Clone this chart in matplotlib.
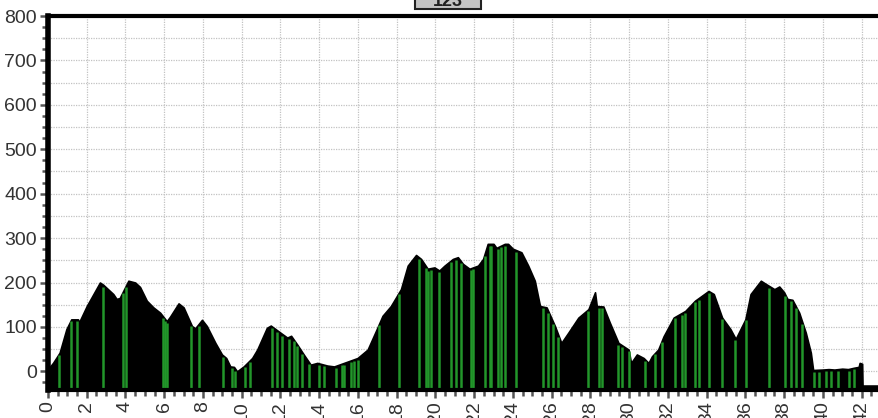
import numpy as np
import matplotlib.pyplot as plt
from matplotlib.ticker import MultipleLocator
from matplotlib.patches import Rectangle

plt.rcParams['font.family'] = ['Liberation Sans', 'DejaVu Sans']

# elevation profile: distance (km) and height (m)
dist = [0.0, 0.26, 0.6, 0.95, 1.2, 1.55, 1.6, 2.0, 2.68, 2.85, 3.37, 3.54, 3.7,
        4.15, 4.5, 4.75, 5.1, 5.44, 5.79, 6.13, 6.3, 6.74, 7.0, 7.43, 7.6, 7.95,
        8.2, 8.64, 8.98, 9.2, 9.41, 9.6, 9.76, 10.1, 10.54, 10.8, 11.3, 11.5,
        12.0, 12.35, 12.55, 12.87, 13.2, 13.56, 13.9, 14.42, 14.77, 15.28, 15.98,
        16.5, 16.93, 17.27, 17.7, 18.22, 18.57, 19.0, 19.26, 19.6, 19.95, 20.2,
        20.47, 20.9, 21.16, 21.42, 21.76, 22.2, 22.46, 22.7, 23.0, 23.15, 23.58,
        23.75, 24.0, 24.44, 24.79, 25.13, 25.4, 25.74, 26.17, 26.5, 26.86, 27.38,
        27.9, 28.24, 28.33, 28.67, 29.0, 29.45, 29.97, 30.1, 30.4, 30.75, 31.0,
        31.18, 31.5, 31.78, 32.3, 32.9, 33.4, 34.1, 34.37, 34.8, 35.23, 35.5,
        36.0, 36.27, 36.8, 37.05, 37.5, 37.75, 38.0, 38.17, 38.43, 38.78, 39.12,
        39.38, 39.5, 40.0, 40.3, 40.6, 41.0, 41.3, 41.6, 41.85, 41.9, 42.03,
        42.05, 42.9]
elev = [5, 19, 42, 95, 117, 117, 110, 147, 200, 195, 174, 163, 165,
        204, 200, 190, 159, 144, 132, 113, 123, 153, 144, 102, 97, 116,
        102, 64, 38, 30, 11, 10, 0, 11, 30, 49, 98, 103,
        87, 76, 80, 60, 38, 15, 19, 13, 11, 19, 30,
        49, 91, 125, 147, 185, 238, 262, 253, 231, 234, 227,
        238, 253, 257, 242, 231, 238, 253, 287, 287, 278, 287,
        287, 276, 268, 238, 204, 147, 144, 102, 64, 87, 121,
        140, 178, 147, 146, 110, 64, 49, 19, 38, 30, 19,
        34, 49, 79, 121, 136, 159, 181, 174, 121, 95, 73,
        117, 174, 204, 197, 185, 191, 178, 163, 161, 132, 87,
        42, 3, 4, 5, 4, 6, 5, 8, 10, 19, 17,
        -32, -32]

# positions of the green gradient stripes (km)
green_km = [0.57, 1.21, 1.5, 2.85, 3.89, 4.03, 5.93, 6.05, 6.13, 7.39, 7.77,
            9.04, 9.5, 9.67, 10.19, 10.45, 11.57, 11.83, 12.09, 12.44, 12.69,
            12.87, 13.13, 13.47, 13.99, 14.25, 14.85, 15.2, 15.28, 15.63, 15.8,
            15.98, 17.1, 18.13, 19.17, 19.52, 19.6, 19.78, 20.21, 20.81, 21.07,
            21.33, 21.85, 21.94, 22.54, 22.8, 22.88, 23.23, 23.4, 23.58, 24.18,
            25.56, 25.82, 26.08, 26.34, 27.9, 28.42, 28.59, 29.45, 29.62, 29.97,
            30.83, 31.35, 31.69, 32.38, 32.73, 32.9, 33.42, 33.59, 34.11, 34.8,
            35.49, 36.01, 37.22, 38.05, 38.34, 38.6, 38.95, 39.55, 39.81, 40.16,
            40.41, 40.76, 41.37, 41.63]

ymin, ymax = -42, 800

fig = plt.figure(figsize=(8.79, 4.18), dpi=100)
ax = fig.add_axes([0.0546, 0.067, 0.9454, 0.8947])

ax.fill_between(dist, elev, ymin, color='black', lw=1.2, zorder=2)
tops = np.interp(green_km, dist, elev)
ax.vlines(green_km, ymin, tops - 4, color='#22962a', lw=1.8, zorder=3)

ax.set_xlim(0, 42.9)
ax.set_ylim(ymin, ymax)

ax.xaxis.set_major_locator(MultipleLocator(2))
ax.xaxis.set_minor_locator(MultipleLocator(0.5))
ax.yaxis.set_major_locator(MultipleLocator(100))
ax.yaxis.set_minor_locator(MultipleLocator(25))

ax.grid(True, which='major', color='#c2c2c2', linestyle=(0, (1, 1)), lw=0.9, zorder=1)
for v in range(50, 800, 100):
    ax.axhline(v, color='#c2c2c2', linestyle=(0, (1, 1)), lw=0.9, zorder=1)

ax.tick_params(axis='both', which='major', direction='out', length=6, width=1.8,
               color='#555555', labelsize=14, labelcolor='#333333', pad=2)
ax.tick_params(axis='both', which='minor', direction='out', length=4, width=1.8,
               color='#555555')
ax.tick_params(axis='x', labelrotation=90)

ax.spines['right'].set_visible(False)
ax.spines['left'].set_linewidth(4)
ax.spines['top'].set_linewidth(3)
ax.spines['bottom'].set_linewidth(3)
for s in ax.spines.values():
    s.set_zorder(5)

# header box, mostly cut off at the top
fig.patches.append(Rectangle((415 / 879, 1 - 9 / 418), 66 / 879, 20 / 418,
                             transform=fig.transFigure, facecolor='#c4c4c4',
                             edgecolor='#222222', lw=1.5))
fig.text(448 / 879, 1 - 1 / 418, "123", ha='center', va='center', fontsize=13,
         color='#222222', fontweight='bold')

fig.savefig('out.png', dpi=100)
